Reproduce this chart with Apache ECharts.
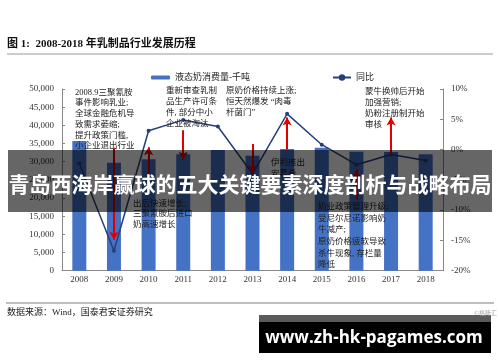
<!DOCTYPE html>
<html><head><meta charset="utf-8">
<script src="https://cdn.jsdelivr.net/npm/echarts@6/dist/echarts.min.js"></script>
<style>html,body{margin:0;padding:0;background:#fff}#c{width:500px;height:362px}</style>
</head><body><div id="c"></div>
<script>
const years = ['2008','2009','2010','2011','2012','2013','2014','2015','2016','2017','2018'];
const consumption = [35700, 29700, 30650, 32030, 33210, 31650, 33490, 33850, 32750, 32670, 32030];
const yoy = [-2.3, -16.7, 3.1, 4.9, 3.8, -4.0, 5.9, 0.8, -2.5, -0.8, -1.8];
const leftTicks = {min: 0, max: 50000, interval: 5000};
const rightTicks = {min: -20, max: 10, interval: 5};
// annotation arrows: [year, from %, to %]
const arrows = [['2009', 0.3, -14.9], ['2010', -6.5, 0.4], ['2011', 3.2, -1.7], ['2013', 0.9, -3.9], ['2014', 0, 5.3], ['2016', -8.3, -3.3], ['2017', -0.8, 5.3]];
const notes = [
  {x: 75, y: 87.2, lh: 10.7, t: '2008.9三聚氰胺\n事件影响乳业;\n全球金融危机导\n致需求萎缩;\n提升政策门槛,\n小企业退出行业'},
  {x: 166, y: 85.2, lh: 10.9, t: '重新审查乳制\n品生产许可条\n件, 部分中小\n企业被淘汰'},
  {x: 226, y: 85.2, lh: 10.9, t: '原奶价格持续上涨;\n恒天然爆发 “肉毒\n杆菌门”'},
  {x: 365, y: 86.2, lh: 11.1, t: '蒙牛换帅后开始\n加强营销;\n奶粉注册制开始\n审核'},
  {x: 271, y: 157.2, lh: 11, t: '伊利推出\n安慕希'},
  {x: 133, y: 198, lh: 10.7, t: '出后快速增长;\n三聚氰胺后进口\n奶高速增长'},
  {x: 318, y: 200.8, lh: 11.7, t: '奶业政策管理升级;\n受尼尔尼诺影响奶\n牛减产;\n原奶价格疲软导致\n杀牛现象, 存栏量\n降低'}
];
const F = '"Liberation Serif","Noto Sans CJK SC",serif';
const chart = echarts.init(document.getElementById('c'));
const graphics = [
  {type:'text', left: 7, top: 39, style:{text:'图 1:  2008-2018 年乳制品行业发展历程', font:'bold 11px '+F, fill:'#111'}},
  {type:'line', shape:{x1:7,y1:54,x2:493,y2:54}, style:{stroke:'#9a9a9a', lineWidth:1.2}},
  {type:'line', shape:{x1:6,y1:303,x2:494,y2:303}, style:{stroke:'#bdbdbd', lineWidth:2}},
  {type:'text', left: 7, top: 308, style:{text:'数据来源：Wind，国泰君安证券研究', font:'9px '+F, fill:'#222'}},
];
notes.forEach(n => graphics.push({type:'text', x:n.x, y:n.y, z:5, style:{text:n.t, font:'8.5px '+F, lineHeight:n.lh, fill:'#222', verticalAlign:'top'}}));
graphics.push(
  {type:'rect', z:50, shape:{x:8,y:150,width:484,height:62}, style:{fill:'rgba(0,0,0,0.6)'}},
  {type:'text', z:51, x:250, y:184, style:{text:'青岛西海岸赢球的五大关键要素深度剖析与战略布局', font:'bold 21px "Noto Sans CJK SC"', fill:'#fff', align:'center', verticalAlign:'middle'}},
  {type:'text', z:51, x:474, y:310, style:{text:'©格隆汇', font:'6px "Noto Sans CJK SC"', fill:'#aaa'}},
  {type:'rect', z:50, shape:{x:259,y:315,width:232,height:38}, style:{fill:'#000'}},
  {type:'rect', z:50, shape:{x:259,y:315,width:232,height:7}, style:{fill:'#5a5a5a'}},
  {type:'text', z:51, x:374, y:338, style:{text:'www.zh-hk-pagames.com', font:'bold 17px "Open Sans"', fill:'#fff', align:'center', verticalAlign:'middle'}}
);
chart.setOption({
  animation: false,
  grid: {left: 62, right: 57, top: 89, bottom: 91.3},
  legend: [
    {data:['液态奶消费量-千吨'], left:146, top:68, itemWidth:19, itemHeight:4, itemGap:4, textStyle:{fontSize:9, fontFamily:F, color:'#222'}},
    {data:['同比'], left:327, top:68, itemWidth:18, itemHeight:8, textStyle:{fontSize:9, fontFamily:F, color:'#222'}}
  ],
  xAxis: {type:'category', data: years, boundaryGap:true,
    axisLine:{lineStyle:{color:'#888'}}, axisTick:{inside:true, length:3, lineStyle:{color:'#888'}},
    axisLabel:{fontSize:9, fontFamily:F, color:'#333', margin:4}},
  yAxis: [
    {type:'value', min:leftTicks.min, max:leftTicks.max, interval:leftTicks.interval, splitLine:{show:false},
     axisLine:{show:true, lineStyle:{color:'#888'}}, axisTick:{show:true, inside:true, length:3, lineStyle:{color:'#888'}},
     axisLabel:{fontSize:9, fontFamily:F, color:'#333', margin:8, formatter: v => v.toLocaleString('en-US')}},
    {type:'value', min:rightTicks.min, max:rightTicks.max, interval:rightTicks.interval, splitLine:{show:false},
     axisLine:{show:true, lineStyle:{color:'#888'}}, axisTick:{show:true, inside:true, length:3, lineStyle:{color:'#888'}},
     axisLabel:{fontSize:9, fontFamily:F, color:'#333', margin:8, formatter:'{value}%'}}
  ],
  series: [
    {name:'液态奶消费量-千吨', type:'bar', data: consumption, barWidth:14, itemStyle:{color:'#4472C4'}},
    {name:'同比', type:'line', yAxisIndex:1, data: yoy, symbol:'circle', symbolSize:4,
     lineStyle:{color:'#263F7A', width:1.5}, itemStyle:{color:'#263F7A'}, z:3,
     markLine:{silent:true, symbol:['none','arrow'], symbolSize:[7,8], label:{show:false},
       lineStyle:{color:'#E00000', width:2, type:'solid'},
       data: arrows.map(a => [{coord:[a[0], a[1]]}, {coord:[a[0], a[2]]}])}}
  ],
  graphic: graphics
});
</script></body></html>
